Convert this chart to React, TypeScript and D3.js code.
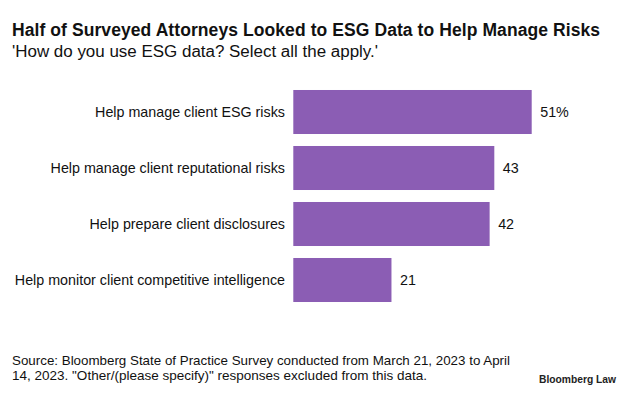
import React from "react";
import * as d3 from "d3";

const categories = [
  "Help manage client ESG risks",
  "Help manage client reputational risks",
  "Help prepare client disclosures",
  "Help monitor client competitive intelligence",
];
const values = [51, 43, 42, 21];
const valueLabels = ["51%", "43", "42", "21"];

const W = 633;
const H = 394;
const FONT = "'Liberation Sans', Arial, Helvetica, sans-serif";

export default function App() {
  const x = d3.scaleLinear().domain([0, 51]).range([293.3, 531.7]);
  const y = d3
    .scaleBand<string>()
    .domain(categories)
    .range([84, 308])
    .paddingInner(0.214)
    .paddingOuter(0.107);

  return (
    <svg
      width={W}
      height={H}
      style={{ position: "absolute", left: 0, top: 0, background: "#fff" }}
      fontFamily={FONT}
    >
      <text x={12} y={36} fontSize={17.5} fontWeight="bold" fill="#111" textLength={588} lengthAdjust="spacing">
        Half of Surveyed Attorneys Looked to ESG Data to Help Manage Risks
      </text>
      <text x={12} y={56.5} fontSize={16} fill="#111" textLength={366} lengthAdjust="spacingAndGlyphs">
        'How do you use ESG data? Select all the apply.'
      </text>
      {categories.map((c, i) => {
        const yy = y(c)!;
        const bw = y.bandwidth();
        return (
          <g key={c}>
            <rect
              x={x(0)}
              y={yy}
              width={x(values[i]) - x(0)}
              height={bw}
              fill="#8b5db4"
            />
            <text
              x={285}
              y={yy + bw / 2}
              dy="0.35em"
              textAnchor="end"
              fontSize={14.3}
              fill="#111"
            >
              {c}
            </text>
            <text
              x={x(values[i]) + 8.5}
              y={yy + bw / 2}
              dy="0.35em"
              fontSize={14.3}
              fill="#111"
            >
              {valueLabels[i]}
            </text>
          </g>
        );
      })}
      <text x={12} y={365} fontSize={13} fill="#111" textLength={498} lengthAdjust="spacingAndGlyphs">
        Source: Bloomberg State of Practice Survey conducted from March 21, 2023 to April
      </text>
      <text x={12} y={379.5} fontSize={13} fill="#111" textLength={415} lengthAdjust="spacingAndGlyphs">
        14, 2023. "Other/(please specify)" responses excluded from this data.
      </text>
      <text x={539} y={383} fontSize={11} fontWeight="bold" fill="#222" textLength={77} lengthAdjust="spacingAndGlyphs">
        Bloomberg Law
      </text>
    </svg>
  );
}
